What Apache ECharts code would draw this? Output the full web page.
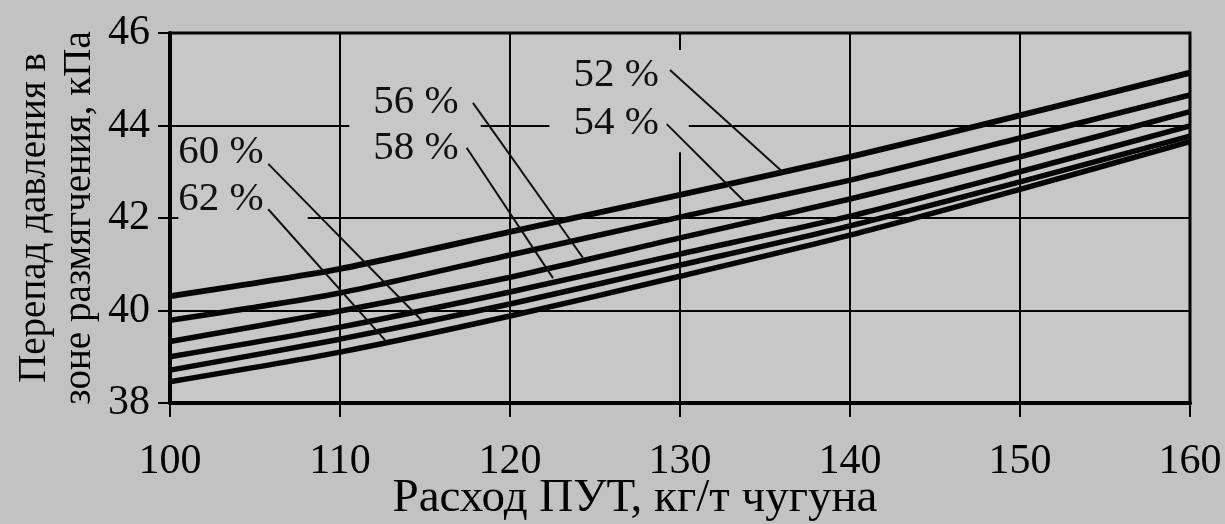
<!DOCTYPE html>
<html>
<head>
<meta charset="utf-8">
<script src="https://cdn.jsdelivr.net/npm/echarts@6/dist/echarts.min.js"></script>
<style>
html,body{margin:0;padding:0;background:#c2c2c2;}
#chart{width:1225px;height:524px;}
</style>
</head>
<body>
<div id="chart"></div>
<script>
// ---- data ----
const xValues = [100, 110, 120, 130, 140, 150, 160];
const s52 = [40.31, 40.90, 41.70, 42.50, 43.32, 44.22, 45.14];
const s54 = [39.79, 40.38, 41.20, 42.02, 42.82, 43.73, 44.66];
const s56 = [39.33, 39.99, 40.72, 41.57, 42.41, 43.32, 44.30];
const s58 = [39.00, 39.64, 40.40, 41.22, 42.04, 43.00, 43.99];
const s60 = [38.71, 39.38, 40.14, 40.98, 41.83, 42.78, 43.77];
const s62 = [38.46, 39.10, 39.88, 40.74, 41.63, 42.62, 43.65];
const seriesNames = ['52 %', '54 %', '56 %', '58 %', '60 %', '62 %'];
const seriesValues = [s52, s54, s56, s58, s60, s62];
const xTicks = [100, 110, 120, 130, 140, 150, 160];
const yTicks = [38, 40, 42, 44, 46];
// label anchor points (data coordinates) and leader lines [start, end]
const labelAnchors = [[126.24, 45.09], [126.24, 44.05], [114.47, 44.51], [114.47, 43.51], [103.0, 43.43], [103.0, 42.41]];
const leaderLines = [
  [[129.41, 45.20], [136.06, 42.99]],
  [[129.22, 44.03], [133.80, 42.35]],
  [[117.82, 44.49], [124.29, 41.14]],
  [[117.45, 43.52], [122.53, 40.70]],
  [[105.78, 43.17], [114.80, 39.79]],
  [[105.78, 42.19], [112.65, 39.36]]
];
const xTitle = 'Расход ПУТ, кг/т чугуна';
const yTitle = 'Перепад давления в\nзоне размягчения, кПа';

// ---- styling ----
const FONT = "'Liberation Serif', 'Times New Roman', serif";
const INK = '#000';
const PLOTBG = '#c7c7c7';
// label box paddings [top, right, bottom, left] to mask grid lines like the original
const labelPads = [[6, 30, 4, 24], [4, 30, 14, 24], [2, 22, 8, 24], [0, 0, 0, 0], [0, 0, 0, 0], [0, 44, 6, 0]];

const series = [];
seriesValues.forEach((vals, i) => {
  series.push({
    name: seriesNames[i],
    type: 'line',
    data: xValues.map((x, j) => [x, vals[j]]),
    symbol: 'none',
    smooth: 0.25,
    lineStyle: { color: '#050505', width: i === 0 ? 6 : 5.5 },
    z: 4,
    silent: true
  });
});
series.push({
  type: 'scatter',
  symbolSize: 0,
  z: 3,
  silent: true,
  itemStyle: { opacity: 1 },
  data: labelAnchors.map((p, i) => ({
    value: p,
    name: seriesNames[i],
    label: { padding: labelPads[i], offset: [(labelPads[i][1] - labelPads[i][3]) / 2, 0] }
  })),
  label: {
    show: true,
    position: 'inside',
    formatter: '{b}',
    fontFamily: FONT,
    fontSize: 41,
    lineHeight: 40,
    color: '#111',
    backgroundColor: PLOTBG
  }
});
leaderLines.forEach(seg => {
  series.push({
    type: 'line',
    data: seg,
    symbol: 'none',
    lineStyle: { color: '#111', width: 2 },
    z: 6,
    silent: true
  });
});

const chart = echarts.init(document.getElementById('chart'), null, { renderer: 'canvas' });
chart.setOption({
  animation: false,
  backgroundColor: '#c2c2c2',
  grid: {
    left: 170, right: 35, top: 33, bottom: 121,
    outerBoundsMode: 'none', containLabel: false,
    show: true, borderColor: '#000', borderWidth: 3, backgroundColor: PLOTBG
  },
  xAxis: {
    type: 'value', min: xTicks[0], max: xTicks[xTicks.length - 1], interval: 10,
    name: xTitle, nameLocation: 'middle', nameGap: 72, nameMoveOverlap: false,
    nameTextStyle: { fontFamily: FONT, fontSize: 47, lineHeight: 47, color: INK, padding: [0, 90, 0, 0] },
    axisLine: { show: true, lineStyle: { color: '#000', width: 4 } },
    axisTick: { show: true, length: 14, lineStyle: { color: '#000', width: 2 } },
    axisLabel: { fontFamily: FONT, fontSize: 42, color: INK, margin: 38 },
    splitLine: { show: true, lineStyle: { color: '#000', width: 2 } }
  },
  yAxis: {
    type: 'value', min: yTicks[0], max: yTicks[yTicks.length - 1], interval: 2,
    name: yTitle, nameLocation: 'middle', nameGap: 68, nameRotate: 90, nameMoveOverlap: false,
    nameTextStyle: { fontFamily: FONT, fontSize: 39, lineHeight: 45, color: INK },
    axisLine: { show: true, lineStyle: { color: '#000', width: 4 } },
    axisTick: { show: true, length: 12, lineStyle: { color: '#000', width: 2 } },
    axisLabel: { fontFamily: FONT, fontSize: 42, color: INK, margin: 20 },
    splitLine: { show: true, lineStyle: { color: '#000', width: 2 } }
  },
  series: series
});
</script>
</body>
</html>
